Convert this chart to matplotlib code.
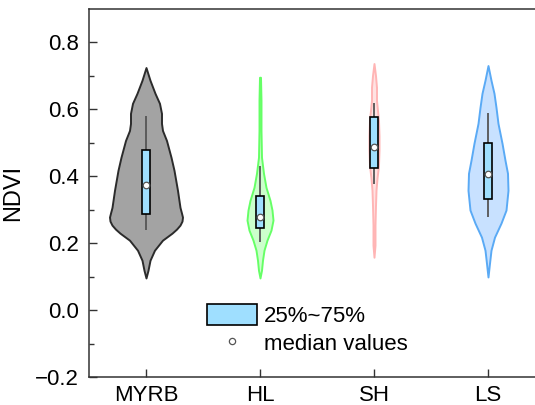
import numpy as np
import matplotlib
matplotlib.use("Agg")
import matplotlib.pyplot as plt
from matplotlib.patches import Patch
from matplotlib.lines import Line2D

plt.rcParams['font.family'] = ['Liberation Sans', 'DejaVu Sans']

# categories
regions = ['MYRB', 'HL', 'SH', 'LS']

# box statistics
whisker_low = [0.239, 0.203, 0.376, 0.278]
q1 = [0.287, 0.245, 0.424, 0.331]
median = [0.373, 0.278, 0.487, 0.406]
q3 = [0.480, 0.340, 0.576, 0.498]
whisker_high = [0.580, 0.430, 0.620, 0.588]

# violin outlines: NDVI levels and relative density (half width)
myrb_y = [0.725, 0.687, 0.648, 0.618, 0.588, 0.558, 0.537, 0.507, 0.457, 0.418,
          0.358, 0.307, 0.290, 0.278, 0.266, 0.254, 0.242, 0.230, 0.209, 0.179,
          0.149, 0.119, 0.096]
myrb_d = [0, 4, 9, 13.5, 15.5, 15.5, 16.5, 20.5, 25, 28,
          31.5, 34, 35.5, 36.5, 36, 34, 30.5, 26, 16.5, 8.5,
          4, 2, 0]
hl_y = [0.696, 0.627, 0.537, 0.457, 0.409, 0.367, 0.328, 0.299, 0.269, 0.239,
        0.209, 0.179, 0.149, 0.119, 0.096]
hl_d = [0.5, 1, 1, 1.5, 3.5, 6, 10, 12, 13, 11, 7, 4, 2.5, 1.5, 0]
sh_y = [0.737, 0.701, 0.666, 0.627, 0.597, 0.567, 0.522, 0.478, 0.433, 0.394,
        0.358, 0.313, 0.254, 0.194, 0.158]
sh_d = [0, 1.5, 2.5, 2.5, 3.5, 4.5, 5, 5, 4.5, 3, 2, 1.5, 1, 1, 0]
ls_y = [0.731, 0.687, 0.648, 0.606, 0.558, 0.499, 0.448, 0.409, 0.358, 0.299,
        0.260, 0.218, 0.179, 0.140, 0.099]
ls_d = [0, 3, 6, 8, 10, 14, 17, 19.5, 20, 18, 13, 6.5, 3, 1.5, 0]

violins = [(myrb_y, myrb_d), (hl_y, hl_d), (sh_y, sh_d), (ls_y, ls_d)]
fills = ['#a3a3a3', '#ccffcc', '#ffe3e3', '#c8e1ff']
edges = ['#2b2b2b', '#66ff66', '#ffb5b5', '#5aaaf5']

fig = plt.figure(figsize=(5.35, 4.05), dpi=100)
ax = fig.add_axes([89 / 535, 28 / 405, 456 / 535, 368 / 405])

scale = 1 / 114.0  # density units -> x units
for i, (yy, dd) in enumerate(violins):
    pos = i + 1
    yy = np.array(yy)
    dd = np.array(dd) * scale
    ax.fill_betweenx(yy, pos - dd, pos + dd, facecolor=fills[i],
                     edgecolor=edges[i], linewidth=1.4, zorder=2)
    # whiskers
    ax.vlines(pos, whisker_low[i], q1[i], color='#555555', lw=1.3, zorder=3)
    ax.vlines(pos, q3[i], whisker_high[i], color='#555555', lw=1.3, zorder=3)
    # box
    ax.bar(pos, q3[i] - q1[i], bottom=q1[i], width=0.072, color='#9fdfff',
           edgecolor='black', linewidth=1.2, zorder=4)
    ax.scatter(pos, median[i], s=22, facecolor='white', edgecolor='#555555',
               linewidth=0.9, zorder=5)

ax.set_xlim(0.5, 4.5)
ax.set_ylim(-0.2, 0.9)
ax.set_xticks(range(1, 5))
ax.set_xticklabels(regions)
ax.set_yticks([-0.2, 0.0, 0.2, 0.4, 0.6, 0.8])
ax.set_yticklabels(['\u22120.2', '0.0', '0.2', '0.4', '0.6', '0.8'])
ax.set_yticks(np.arange(-0.1, 0.9, 0.2), minor=True)
ax.tick_params(axis='both', which='major', direction='in', length=6,
               width=1, labelsize=16, colors='#333333', labelcolor='black')
ax.tick_params(axis='y', which='minor', direction='in', length=3.5,
               width=1, colors='#333333')
ax.tick_params(axis='x', pad=6)
ax.tick_params(axis='y', pad=7)
for s in ax.spines.values():
    s.set_linewidth(1.1)
    s.set_color('#333333')
ax.set_ylabel('NDVI', fontsize=17, labelpad=8)

handles = [Patch(facecolor='#9fdfff', edgecolor='black', linewidth=1.2),
           Line2D([], [], marker='o', ls='none', markersize=4.5,
                  markerfacecolor='white', markeredgecolor='#555555', markeredgewidth=0.9)]
ax.legend(handles, ['25%~75%', 'median values'], loc='upper left',
          bbox_to_anchor=(207 / 535, 1 - 304 / 405), bbox_transform=fig.transFigure,
          frameon=False, fontsize=16, borderpad=0, borderaxespad=0,
          handlelength=2.27, handleheight=1.1, handletextpad=0.3,
          labelspacing=0.2)

fig.savefig('out.png', dpi=100)
